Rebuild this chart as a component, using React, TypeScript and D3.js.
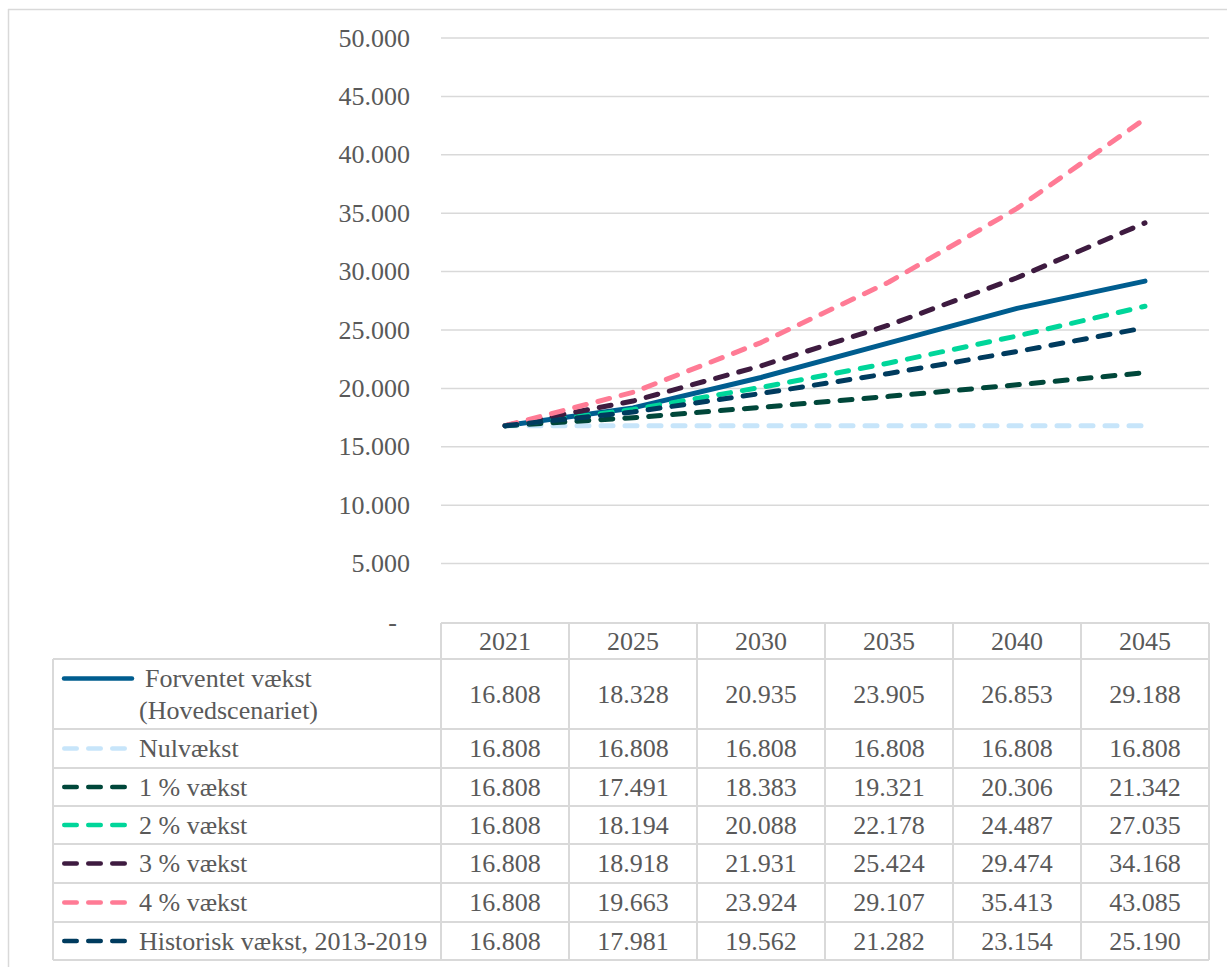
import React from "react";
import * as d3 from "d3";

const years = ["2021", "2025", "2030", "2035", "2040", "2045"];
const seriesNames = [
  ["Forventet vækst", "(Hovedscenariet)"],
  ["Nulvækst"],
  ["1 % vækst"],
  ["2 % vækst"],
  ["3 % vækst"],
  ["4 % vækst"],
  ["Historisk vækst, 2013-2019"],
];
const forventet = [16808, 18328, 20935, 23905, 26853, 29188];
const nulvaekst = [16808, 16808, 16808, 16808, 16808, 16808];
const vaekst1 = [16808, 17491, 18383, 19321, 20306, 21342];
const vaekst2 = [16808, 18194, 20088, 22178, 24487, 27035];
const vaekst3 = [16808, 18918, 21931, 25424, 29474, 34168];
const vaekst4 = [16808, 19663, 23924, 29107, 35413, 43085];
const historisk = [16808, 17981, 19562, 21282, 23154, 25190];
const yTicks = [0, 5000, 10000, 15000, 20000, 25000, 30000, 35000, 40000, 45000, 50000];

const seriesValues = [forventet, nulvaekst, vaekst1, vaekst2, vaekst3, vaekst4, historisk];
const colors = ["#005d8f", "#c7e5fa", "#00473a", "#00d69a", "#3e1b40", "#ff7b95", "#003b5e"];
const dashed = [false, true, true, true, true, true, true];

const FONT = '"Liberation Serif", "Times New Roman", serif';
const TEXT = "#595959";
const GRID = "#d9d9d9";

export default function App() {
  const plotLeft = 441;
  const plotRight = 1209;
  const x = d3.scaleBand<string>().domain(years).range([plotLeft, plotRight]);
  const y = d3.scaleLinear().domain([0, 50000]).range([622, 38]);
  const fmt = (v: number) => d3.format(",")(v).replace(/,/g, ".");
  const line = d3
    .line<number>()
    .x((_, i) => (x(years[i]) as number) + x.bandwidth() / 2)
    .y((d) => y(d));

  const headerTop = 623;
  const rowTops = [659, 729, 768, 806, 844, 883, 922, 960];
  const tableLeft = 53;

  return (
    <svg
      width={1227}
      height={967}
      style={{ position: "absolute", left: 0, top: 0, background: "#fff" }}
      fontFamily={FONT}
    >
      {/* outer frame */}
      <line x1={8.5} y1={9} x2={8.5} y2={967} stroke={GRID} strokeWidth={1.5} />
      <line x1={8} y1={9.5} x2={1227} y2={9.5} stroke={GRID} strokeWidth={1.5} />

      {/* gridlines */}
      {yTicks.filter((t) => t > 0).map((t) => (
        <line key={t} x1={plotLeft} x2={plotRight} y1={y(t)} y2={y(t)} stroke={GRID} strokeWidth={1.5} />
      ))}
      {/* y labels */}
      {yTicks.map((t) =>
        t === 0 ? (
          <text key={t} x={397} y={y(t)} textAnchor="end" dominantBaseline="central" fontSize={26} fill={TEXT}>
            -
          </text>
        ) : (
          <text key={t} x={410} y={y(t)} textAnchor="end" dominantBaseline="central" fontSize={26} fill={TEXT}>
            {fmt(t)}
          </text>
        )
      )}

      {/* table grid */}
      <line x1={plotLeft} x2={plotRight} y1={headerTop} y2={headerTop} stroke={GRID} strokeWidth={2} />
      {rowTops.map((r, i) => (
        <line key={"h" + i} x1={tableLeft} x2={plotRight} y1={r} y2={r} stroke={GRID} strokeWidth={2} />
      ))}
      <line x1={tableLeft} x2={tableLeft} y1={rowTops[0]} y2={rowTops[rowTops.length - 1]} stroke={GRID} strokeWidth={2} />
      {years.map((yr) => (
        <line
          key={"v" + yr}
          x1={x(yr) as number}
          x2={x(yr) as number}
          y1={headerTop}
          y2={rowTops[rowTops.length - 1]}
          stroke={GRID}
          strokeWidth={2}
        />
      ))}
      <line x1={plotRight} x2={plotRight} y1={headerTop} y2={rowTops[rowTops.length - 1]} stroke={GRID} strokeWidth={2} />

      {/* header years */}
      {years.map((yr) => (
        <text
          key={"y" + yr}
          x={(x(yr) as number) + x.bandwidth() / 2}
          y={(headerTop + rowTops[0]) / 2}
          textAnchor="middle"
          dominantBaseline="central"
          fontSize={26}
          fill={TEXT}
        >
          {yr}
        </text>
      ))}

      {/* rows */}
      {seriesNames.map((name, si) => {
        const top = rowTops[si];
        const bottom = rowTops[si + 1];
        const mid = (top + bottom) / 2;
        const legendY = name.length > 1 ? top + 19.5 : mid;
        return (
          <g key={"r" + si}>
            <line
              x1={dashed[si] ? 64.25 : 64}
              x2={dashed[si] ? 125 : 132}
              y1={legendY}
              y2={legendY}
              stroke={colors[si]}
              strokeWidth={4.5}
              strokeLinecap="round"
              strokeDasharray={dashed[si] ? "12.5 11.5" : undefined}
            />
            {name.map((n, li) => (
              <text
                key={li}
                x={name.length > 1 && li === 0 ? 145 : 139}
                y={name.length > 1 ? top + 19.5 + li * 32 : mid}
                dominantBaseline="central"
                fontSize={26}
                fill={TEXT}
              >
                {n}
              </text>
            ))}
            {seriesValues[si].map((v, vi) => (
              <text
                key={vi}
                x={(x(years[vi]) as number) + x.bandwidth() / 2}
                y={mid}
                textAnchor="middle"
                dominantBaseline="central"
                fontSize={26}
                fill={TEXT}
              >
                {fmt(v)}
              </text>
            ))}
          </g>
        );
      })}

      {/* series lines */}
      {seriesValues.map((vals, si) => (
        <path
          key={"s" + si}
          d={line(vals) || ""}
          fill="none"
          stroke={colors[si]}
          strokeWidth={5}
          strokeLinecap="round"
          strokeLinejoin="round"
          strokeDasharray={dashed[si] ? "12 12" : undefined}
        />
      ))}
    </svg>
  );
}
